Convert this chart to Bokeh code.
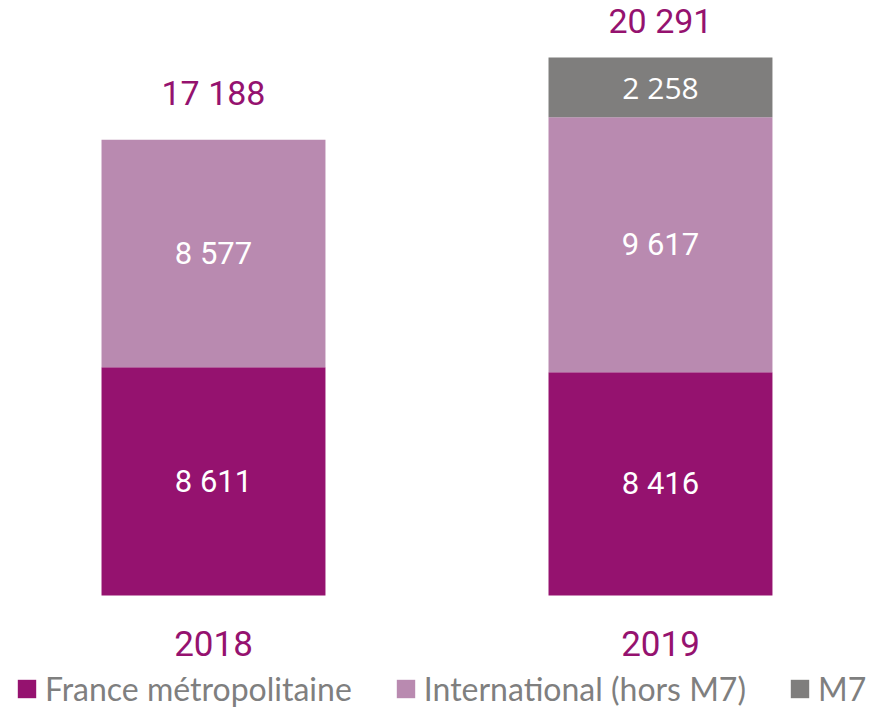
from bokeh.plotting import figure
from bokeh.models import ColumnDataSource, Range1d, Legend, LegendItem
from bokeh.core.properties import value
from bokeh.embed import file_html
from bokeh.resources import INLINE

# ---- data ----
years = ["2018", "2019"]
france = [8611, 8416]
international = [8577, 9617]
m7 = [0, 2258]
totals = [17188, 20291]
series_names = ["France métropolitaine", "International (hors M7)", "M7"]

# ---- styles ----
colors = ["#95126F", "#B98AB0", "#7F7E7D"]
text_color = "#95126F"
total_offsets = [-47, -36]

def fmt(v):
    return f"{v:,}".replace(",", " ")

idx = list(range(len(years)))
src = ColumnDataSource(dict(x=idx, france=france, international=international, m7=m7))

p = figure(width=869, height=709, output_backend="svg", toolbar_location=None,
           x_axis_type=None, y_axis_type=None, min_border=0,
           x_range=Range1d(-0.4765, 1.4676), y_range=Range1d(-4299, 22436))
p.outline_line_color = None
p.background_fill_color = "white"

renderers = p.vbar_stack(["france", "international", "m7"], x="x", width=0.501,
                         color=colors, line_color=None, source=src)

# segment labels
lx, ly, lt = [], [], []
for i in idx:
    lx.append(i); ly.append(france[i] / 2); lt.append(fmt(france[i]))
    lx.append(i); ly.append(france[i] + international[i] / 2); lt.append(fmt(international[i]))
p.text(x=lx, y=ly, text=lt, text_color="white", text_align="center",
       text_baseline="middle", text_font=value("Roboto"),
       text_font_size="31px")

mx = [i for i in idx if m7[i] > 0]
my = [france[i] + international[i] + m7[i] / 2 for i in mx]
mt = [fmt(m7[i]) for i in mx]
p.text(x=mx, y=my, text=mt, text_color="white", text_align="center",
       text_baseline="middle", text_font=value("Open Sans"),
       text_font_size="30px")

# totals
tsrc = ColumnDataSource(dict(x=idx, y=totals, t=[fmt(v) for v in totals], off=total_offsets))
p.text(x="x", y="y", text="t", y_offset="off", source=tsrc, text_color=text_color,
       text_align="center", text_baseline="middle",
       text_font=value("Roboto"), text_font_size="34px")

# year labels
p.text(x=idx, y=[0] * len(idx), text=years, y_offset=48, text_color=text_color,
       text_align="center", text_baseline="middle", text_font=value("Roboto"),
       text_font_size="35px")

legend = Legend(items=[LegendItem(label=n, renderers=[r]) for n, r in zip(series_names, renderers)],
                orientation="horizontal", location=(15, 1), padding=0, margin=0,
                spacing=42, glyph_width=23, glyph_height=23, label_standoff=7,
                label_text_font="Lato", label_text_font_size="32px",
                label_text_color="#7F7F7F", border_line_color=None,
                background_fill_alpha=0)
p.add_layout(legend, "center")

open("out.html", "w").write(file_html(p, INLINE))
